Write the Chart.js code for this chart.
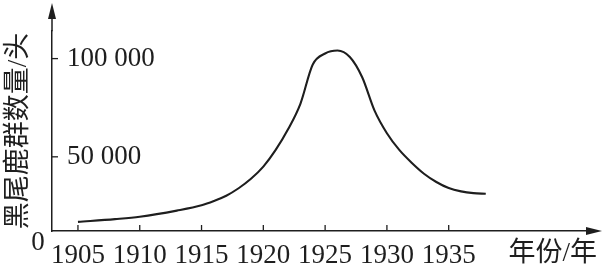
<!DOCTYPE html>
<html lang="zh">
<head>
    <meta charset="UTF-8">
    <title>黑尾鹿群数量</title>
    <script src="https://cdn.jsdelivr.net/npm/chart.js@4.4.1/dist/chart.umd.min.js"></script>
    <style>
        html, body {
            margin: 0;
            padding: 0;
            background: #fff;
        }
        #wrap {
            width: 604px;
            height: 270px;
        }
    </style>
</head>
<body>
    <div id="wrap"><canvas id="deerChart" width="604" height="270"></canvas></div>

    <script>
        // 数据
        const years = [1905, 1908, 1910, 1913, 1915, 1916, 1917, 1918, 1919, 1920, 1921, 1922, 1923, 1924, 1925, 1926, 1927, 1928, 1929, 1930, 1931, 1932, 1933, 1934, 1935, 1936, 1937, 1938];
        const deerCount = [16900, 18300, 19500, 22600, 25300, 27500, 30200, 34000, 38800, 45000, 53500, 64000, 77000, 97000, 102600, 104100, 100800, 90500, 73500, 62000, 53500, 47000, 41400, 37200, 34100, 32400, 31500, 31200];
        const xTicks = [1905, 1910, 1915, 1920, 1925, 1930, 1935];
        const yTicks = [50000, 100000];

        const ink = '#1e1e1e';
        const numFont = '"Liberation Serif", "Times New Roman", serif';
        const cjkFont = '"Liberation Serif", "Noto Sans CJK SC", sans-serif';

        // 坐标轴箭头、向内的刻度线和原点 0
        const axisExtras = {
            id: 'axisExtras',
            afterDraw(chart) {
                const { ctx, chartArea: a, scales: { x, y } } = chart;
                ctx.save();
                ctx.strokeStyle = ink;
                ctx.fillStyle = ink;
                ctx.lineWidth = 1.5;

                // y 轴延长 + 箭头
                ctx.beginPath();
                ctx.moveTo(a.left, a.top);
                ctx.lineTo(a.left, 12);
                ctx.stroke();
                ctx.beginPath();
                ctx.moveTo(a.left, 3);
                ctx.lineTo(a.left - 4, 19);
                ctx.lineTo(a.left + 4, 19);
                ctx.closePath();
                ctx.fill();

                // x 轴延长 + 箭头
                ctx.beginPath();
                ctx.moveTo(a.right, a.bottom);
                ctx.lineTo(594, a.bottom);
                ctx.stroke();
                ctx.beginPath();
                ctx.moveTo(602, a.bottom);
                ctx.lineTo(586, a.bottom - 4);
                ctx.lineTo(586, a.bottom + 4);
                ctx.closePath();
                ctx.fill();

                // 刻度线
                ctx.lineWidth = 1.3;
                xTicks.forEach(v => {
                    const px = x.getPixelForValue(v);
                    ctx.beginPath();
                    ctx.moveTo(px, a.bottom);
                    ctx.lineTo(px, a.bottom - 6);
                    ctx.stroke();
                });
                yTicks.forEach(v => {
                    const py = y.getPixelForValue(v);
                    ctx.beginPath();
                    ctx.moveTo(a.left, py);
                    ctx.lineTo(a.left + 6, py);
                    ctx.stroke();
                });

                // 原点
                ctx.font = '27px ' + numFont;
                ctx.textAlign = 'center';
                ctx.textBaseline = 'middle';
                ctx.fillText('0', a.left - 14, a.bottom + 12);
                ctx.restore();
            }
        };

        const ctx = document.getElementById('deerChart').getContext('2d');
        new Chart(ctx, {
            type: 'line',
            data: {
                datasets: [{
                    data: years.map((yr, i) => ({ x: yr, y: deerCount[i] })),
                    borderColor: ink,
                    borderWidth: 2.1,
                    pointRadius: 0,
                    fill: false,
                    cubicInterpolationMode: 'monotone'
                }]
            },
            options: {
                responsive: false,
                animation: false,
                layout: {
                    padding: { left: 0, top: 29, right: 7, bottom: 0 }
                },
                plugins: {
                    legend: { display: false },
                    tooltip: { enabled: false }
                },
                scales: {
                    x: {
                        type: 'linear',
                        min: 1902.9,
                        max: 1947.0,
                        afterBuildTicks: axis => {
                            axis.ticks = xTicks.map(v => ({ value: v }));
                        },
                        grid: { display: false, drawTicks: false },
                        border: { display: true, color: ink, width: 1.5 },
                        ticks: {
                            autoSkip: false,
                            maxRotation: 0,
                            padding: 8.8,
                            color: ink,
                            font: { family: numFont, size: 27, lineHeight: 1.2 },
                            callback: v => String(v)
                        },
                        title: {
                            display: true,
                            text: '年份/年',
                            align: 'end',
                            color: ink,
                            padding: { top: -43.4, bottom: 0 },
                            font: { family: cjkFont, size: 27, lineHeight: 1.2 }
                        }
                    },
                    y: {
                        min: 12240,
                        max: 113950,
                        afterBuildTicks: axis => {
                            axis.ticks = yTicks.map(v => ({ value: v }));
                        },
                        grid: { display: false, drawTicks: false },
                        border: { display: true, color: ink, width: 1.5 },
                        ticks: {
                            mirror: true,
                            padding: 15,
                            color: ink,
                            font: { family: numFont, size: 27, lineHeight: 1.2 },
                            callback: v => v.toLocaleString('en-US').replace(/,/g, ' ')
                        },
                        title: {
                            display: true,
                            text: '黑尾鹿群数量/头',
                            color: ink,
                            padding: { top: 2.8, bottom: -13.2 },
                            font: { family: cjkFont, size: 27, lineHeight: 1.2 }
                        }
                    }
                }
            },
            plugins: [axisExtras]
        });
    </script>
</body>
</html>
